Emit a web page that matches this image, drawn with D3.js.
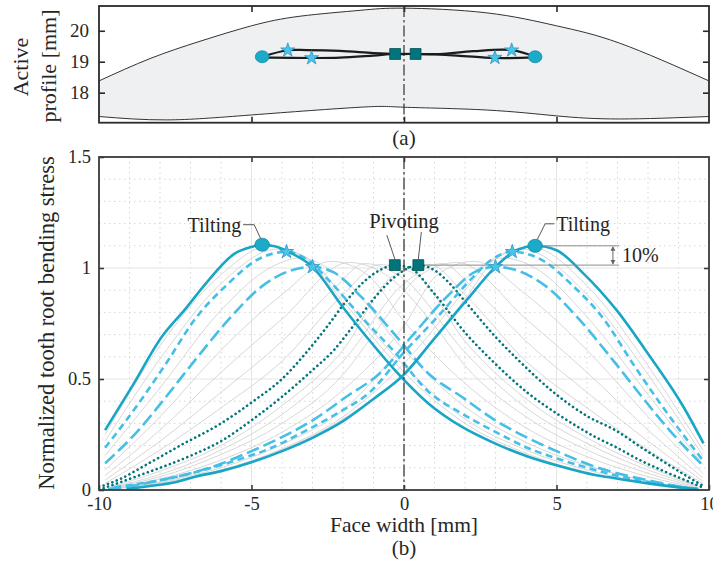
<!DOCTYPE html>
<html>
<head>
<meta charset="utf-8">
<script src="https://cdn.jsdelivr.net/npm/d3@7"></script>
<style>
  body { margin: 0; background: #fff; }
  svg text { font-family: "Liberation Serif", "Times New Roman", serif; fill: #262626; }
</style>
</head>
<body>
<svg id="chart" width="713" height="569"></svg>
<script>
// ---------- data ----------
const xTicks = [-10, -5, 0, 5, 10];
const yTicks = [0, 0.5, 1, 1.5];
const profileTicks = [18, 19, 20];

// tooth flank outline (top panel)
const profileTop = [[-10, 18.38], [-8.33, 19.1], [-6.69, 19.66], [-5, 20.16], [-3.41, 20.47], [-1.44, 20.66],
  [0, 20.73], [2.7, 20.58], [5, 20.16], [7.07, 19.6], [10, 18.38]];
const profileRoot = [[-10, 17.23], [-7.78, 17.12], [-5, 17.28], [-1.44, 17.53], [0, 17.53], [2.7, 17.44],
  [5, 17.25], [7.07, 17.15], [10, 17.23]];

// contact path of the peak stress
const contactUpper = [[-4.65, 19.16], [-3.81, 19.37], [-3.19, 19.375], [-2.1, 19.35], [-1.0, 19.28], [-0.29, 19.25],
  [0.38, 19.25], [1.18, 19.25], [2.27, 19.34], [3.53, 19.375], [4.3, 19.16]];
const contactLower = [[-4.65, 19.14], [-3.03, 19.12], [-2.1, 19.13], [-1.0, 19.2], [-0.29, 19.25], [0.38, 19.25],
  [1.73, 19.2], [2.98, 19.12], [4.3, 19.14]];
const topCircles = [[-4.65, 19.16], [4.3, 19.16]];
const topStars = [[-3.81, 19.37], [-3.03, 19.12], [2.98, 19.13], [3.53, 19.37]];
const topSquares = [[-0.29, 19.25], [0.38, 19.25]];

// normalized stress along face width (bottom panel)
const tiltLeft = [[-9.8, 0.27], [-8.9, 0.47], [-7.94, 0.69], [-7.2, 0.81], [-6.5, 0.93], [-5.54, 1.066], [-5.0, 1.095],
  [-4.65, 1.105], [-4.2, 1.097], [-3.79, 1.073], [-3.0, 1.005], [-2.04, 0.83], [-1.17, 0.68], [-0.3, 0.54], [0.8, 0.39],
  [1.89, 0.285], [2.98, 0.21], [4.08, 0.15], [5.17, 0.105], [6.26, 0.068], [6.92, 0.053], [8.0, 0.03], [9.0, 0.012], [9.6, 0.003]];
const tiltRight = [[-9.1, 0.004], [-8.5, 0.015], [-7.5, 0.035], [-6.85, 0.06], [-6.0, 0.085], [-5.0, 0.125], [-4.0, 0.175],
  [-3.0, 0.235], [-2.0, 0.31], [-1.0, 0.41], [0.0, 0.52], [0.96, 0.676], [2.06, 0.856], [3.0, 1.005], [3.59, 1.073],
  [4.0, 1.095], [4.3, 1.1], [5.0, 1.08], [5.88, 0.976], [6.97, 0.81], [8.07, 0.6], [9.16, 0.375], [9.82, 0.21]];
const dashLeftA = [[-9.8, 0.19], [-8.7, 0.39], [-7.8, 0.57], [-6.85, 0.77], [-5.76, 0.93], [-4.9, 1.03], [-4.3, 1.065],
  [-3.85, 1.073], [-3.2, 1.04], [-2.5, 0.95], [-1.4, 0.78], [-0.3, 0.62], [0.8, 0.443], [1.89, 0.345], [2.98, 0.263],
  [4.08, 0.188], [5.17, 0.135], [6.26, 0.09], [7.3, 0.055], [8.3, 0.03], [9.2, 0.012], [9.7, 0.004]];
const dashRightA = [[-9.5, 0.012], [-8.6, 0.03], [-7.6, 0.055], [-6.56, 0.09], [-5.47, 0.135], [-4.38, 0.188], [-3.28, 0.263],
  [-2.19, 0.345], [-1.1, 0.443], [0, 0.62], [1.1, 0.78], [2.2, 0.95], [2.9, 1.04], [3.55, 1.073], [4.0, 1.065],
  [4.6, 1.03], [5.46, 0.93], [6.55, 0.77], [7.5, 0.57], [8.4, 0.39], [9.82, 0.13]];
const dashLeftB = [[-9.8, 0.12], [-8.7, 0.27], [-7.8, 0.42], [-6.85, 0.585], [-5.76, 0.766], [-4.67, 0.916], [-3.79, 0.985],
  [-3.0, 1.005], [-2.3, 0.98], [-1.4, 0.87], [-0.3, 0.7], [0.8, 0.525], [1.89, 0.42], [2.98, 0.315], [4.08, 0.233],
  [5.17, 0.165], [6.26, 0.105], [7.3, 0.065], [8.3, 0.035], [9.2, 0.012], [9.7, 0.004]];
const dashRightB = [[-9.7, 0.004], [-9.2, 0.012], [-8.3, 0.035], [-7.3, 0.065], [-6.26, 0.105], [-5.17, 0.165], [-4.08, 0.233],
  [-2.98, 0.315], [-1.89, 0.42], [-0.8, 0.525], [0.3, 0.7], [1.4, 0.87], [2.3, 0.98], [3.0, 1.005], [3.79, 0.985],
  [4.67, 0.916], [5.76, 0.766], [6.85, 0.585], [7.8, 0.42], [8.7, 0.27], [9.8, 0.11]];
const pivotLeft = [[-9.85, 0.02], [-9.3, 0.05], [-8.5, 0.11], [-7.34, 0.2], [-6.0, 0.3], [-4.94, 0.4], [-4.0, 0.5],
  [-3.2, 0.62], [-2.5, 0.74], [-1.9, 0.85], [-1.3, 0.94], [-0.8, 0.99], [-0.3, 1.013], [0.2, 1.0], [0.96, 0.89],
  [2.06, 0.7], [2.87, 0.585], [4.08, 0.435], [5.17, 0.33], [6.26, 0.24], [6.92, 0.195], [7.8, 0.13], [8.6, 0.08],
  [9.3, 0.04], [9.85, 0.008]];
const pivotRight = [[-9.85, 0.008], [-9.3, 0.035], [-8.6, 0.07], [-7.8, 0.11], [-6.9, 0.16], [-6.0, 0.22], [-4.94, 0.32],
  [-4.0, 0.42], [-3.0, 0.54], [-2.3, 0.63], [-1.77, 0.72], [-1.0, 0.86], [-0.3, 0.96], [0.47, 1.013], [1.0, 0.99],
  [1.5, 0.93], [2.06, 0.84], [3.0, 0.69], [3.75, 0.585], [4.95, 0.435], [6.04, 0.33], [6.92, 0.27], [7.8, 0.19],
  [8.6, 0.12], [9.3, 0.06], [9.85, 0.015]];

// intermediate load positions (thin grey)
const greyLeft = [
  [[-9.8, 0.25], [-8, 0.65], [-6, 0.97], [-4.45, 1.098], [-3.3, 1.05], [-2, 0.85], [0, 0.53], [2, 0.3], [4, 0.165], [6, 0.08], [8, 0.03], [9.6, 0.004]],
  [[-9.8, 0.22], [-8, 0.59], [-6, 0.93], [-4.15, 1.085], [-3, 1.03], [-2, 0.87], [0, 0.56], [2, 0.32], [4, 0.18], [6, 0.09], [8, 0.033], [9.6, 0.005]],
  [[-9.8, 0.155], [-8, 0.46], [-6, 0.81], [-4.4, 1.0], [-3.4, 1.045], [-2, 0.95], [0, 0.63], [2, 0.375], [4, 0.215], [6, 0.11], [8, 0.04], [9.6, 0.006]],
  [[-9.8, 0.09], [-8, 0.33], [-6, 0.63], [-4, 0.88], [-2.4, 1.03], [-1.2, 0.97], [0, 0.76], [2, 0.48], [4, 0.28], [6, 0.15], [8, 0.06], [9.6, 0.01]],
  [[-9.8, 0.065], [-8, 0.27], [-6, 0.53], [-4, 0.77], [-1.8, 1.025], [-0.6, 0.97], [1, 0.74], [2, 0.56], [4, 0.33], [6, 0.18], [8, 0.075], [9.6, 0.014]],
  [[-9.8, 0.045], [-8, 0.22], [-6, 0.44], [-4, 0.67], [-2.2, 0.92], [-1.3, 1.02], [0, 0.95], [2, 0.62], [4, 0.37], [6, 0.21], [8, 0.09], [9.6, 0.018]],
  [[-9.8, 0.03], [-8, 0.18], [-6, 0.37], [-4, 0.58], [-2, 0.88], [-0.8, 1.015], [0.4, 0.97], [2, 0.67], [4, 0.41], [6, 0.235], [8, 0.105], [9.6, 0.02]]
];
const greyRight = [
  [[-9.6, 0.004], [-8, 0.03], [-6, 0.085], [-4, 0.18], [-2, 0.32], [0, 0.53], [2, 0.86], [3.0, 1.04], [4.15, 1.095], [6, 0.92], [8, 0.56], [9.8, 0.18]],
  [[-9.6, 0.005], [-8, 0.033], [-6, 0.09], [-4, 0.185], [-2, 0.33], [0, 0.57], [2, 0.9], [2.8, 1.03], [3.85, 1.085], [6, 0.88], [8, 0.52], [9.8, 0.155]],
  [[-9.6, 0.006], [-8, 0.037], [-6, 0.1], [-4, 0.205], [-2, 0.36], [0, 0.65], [2, 0.95], [3.25, 1.045], [4.3, 1.0], [6, 0.78], [8, 0.43], [9.8, 0.115]],
  [[-9.6, 0.008], [-8, 0.05], [-6, 0.135], [-4, 0.26], [-2, 0.45], [0, 0.74], [1.1, 0.97], [2.3, 1.03], [4, 0.88], [6, 0.63], [8, 0.33], [9.8, 0.075]],
  [[-9.6, 0.01], [-8, 0.06], [-6, 0.16], [-4, 0.3], [-2, 0.52], [-1, 0.7], [0.55, 0.97], [1.75, 1.025], [4, 0.77], [6, 0.53], [8, 0.27], [9.8, 0.055]],
  [[-9.6, 0.012], [-8, 0.07], [-6, 0.18], [-4, 0.34], [-2, 0.58], [0, 0.93], [1.25, 1.02], [2.2, 0.92], [4, 0.67], [6, 0.44], [8, 0.22], [9.8, 0.04]],
  [[-9.6, 0.015], [-8, 0.085], [-6, 0.2], [-4, 0.38], [-2, 0.63], [-0.4, 0.96], [0.85, 1.015], [2, 0.88], [4, 0.58], [6, 0.37], [8, 0.18], [9.8, 0.03]]
];

const peakCircles = [[-4.65, 1.105], [4.3, 1.1]];
const peakStars = [[-3.85, 1.073], [-3.0, 1.005], [3.0, 1.005], [3.55, 1.073]];
const peakSquares = [[-0.3, 1.013], [0.47, 1.013]];

// ---------- colours ----------
const cTilt = "#19a6c5", cDash = "#45bfe5", cPivot = "#00767c";
const cGrey = "#d3d3d3", cAxis = "#3a3a3a";

const svg = d3.select("#chart");

// ---------- top panel ----------
const xT = d3.scaleLinear().domain([-10, 10]).range([99, 709]);
const yT = d3.scaleLinear().domain([17.03, 20.8]).range([122.7, 6]);

const lineT = d3.line().x(d => xT(d[0])).y(d => yT(d[1])).curve(d3.curveCatmullRom);
const outlineT = d3.line().x(d => xT(d[0])).y(d => yT(d[1])).curve(d3.curveNatural);
const topG = svg.append("g").attr("id", "profile");

topG.append("path")
  .attr("d", outlineT(profileTop) + outlineT(profileRoot.slice().reverse()).replace("M", "L") + "Z")
  .attr("fill", "#eff0f2").attr("stroke", "none");
topG.append("path").attr("d", outlineT(profileTop)).attr("fill", "none").attr("stroke", "#333").attr("stroke-width", 1);
topG.append("path").attr("d", outlineT(profileRoot)).attr("fill", "none").attr("stroke", "#333").attr("stroke-width", 1);

topG.append("line")
  .attr("x1", xT(0)).attr("x2", xT(0)).attr("y1", yT.range()[1]).attr("y2", yT.range()[0])
  .attr("stroke", "#333").attr("stroke-width", 1.2).attr("stroke-dasharray", "11 3 2.5 3");

for (const p of [contactUpper, contactLower]) {
  topG.append("path").attr("d", lineT(p)).attr("fill", "none")
    .attr("stroke", "#1c1c1c").attr("stroke-width", 2.2);
}

function drawMarkers(g, xs, ys, circles, stars, squares, r) {
  g.selectAll(null).data(circles).join("ellipse")
    .attr("cx", d => xs(d[0])).attr("cy", d => ys(d[1]))
    .attr("rx", r + 0.8).attr("ry", r)
    .attr("fill", "#1babc8").attr("stroke", "#138aa3").attr("stroke-width", 0.8);
  g.selectAll(null).data(stars).join("path")
    .attr("transform", d => `translate(${xs(d[0])},${ys(d[1])})`)
    .attr("d", d3.symbol(d3.symbolStar, 62))
    .attr("fill", "#4cc3ea").attr("stroke", "#2a98c0").attr("stroke-width", 0.8);
  g.selectAll(null).data(squares).join("path")
    .attr("transform", d => `translate(${xs(d[0])},${ys(d[1])})`)
    .attr("d", d3.symbol(d3.symbolSquare, 118))
    .attr("fill", cPivot).attr("stroke", "#004c50").attr("stroke-width", 0.8);
}
drawMarkers(topG, xT, yT, topCircles, topStars, topSquares, 6);

topG.append("rect")
  .attr("x", 99).attr("y", 6).attr("width", 610).attr("height", 116.7)
  .attr("fill", "none").attr("stroke", "#2a2a2a").attr("stroke-width", 1.8);

topG.append("g").attr("transform", "translate(0,122.7)")
  .call(d3.axisBottom(xT).tickValues([-5, 0, 5]).tickSize(-6).tickFormat(""))
  .call(g => g.select(".domain").remove());
topG.append("g").attr("transform", "translate(0,6)")
  .call(d3.axisTop(xT).tickValues([-5, 0, 5]).tickSize(-6).tickFormat(""))
  .call(g => g.select(".domain").remove());
topG.append("g").attr("transform", "translate(99,0)")
  .call(d3.axisLeft(yT).tickValues(profileTicks).tickSize(-6).tickPadding(10).tickFormat(d => String(d)))
  .call(g => g.select(".domain").remove())
  .call(g => g.selectAll("text").attr("font-size", 19).attr("font-family", null));
topG.append("g").attr("transform", "translate(709,0)")
  .call(d3.axisRight(yT).tickValues(profileTicks).tickSize(-6).tickFormat(""))
  .call(g => g.select(".domain").remove());
topG.selectAll(".tick line").attr("stroke", "#2a2a2a").attr("stroke-width", 1.6);

topG.append("text").attr("transform", "translate(20,67) rotate(-90)")
  .attr("text-anchor", "middle").attr("dy", "0.35em").attr("font-size", 22).text("Active");
topG.append("text").attr("transform", "translate(48,66) rotate(-90)")
  .attr("text-anchor", "middle").attr("dy", "0.35em").attr("font-size", 22).text("profile [mm]");
topG.append("text").attr("x", 404).attr("y", 145).attr("text-anchor", "middle")
  .attr("font-size", 21).text("(a)");

// ---------- bottom panel ----------
const xB = d3.scaleLinear().domain([-10, 10]).range([99, 709]);
const yB = d3.scaleLinear().domain([0, 1.5]).range([490, 157]);
const botG = svg.append("g").attr("id", "stress");

botG.append("clipPath").attr("id", "clipB").append("rect")
  .attr("x", 99).attr("y", 157).attr("width", 610).attr("height", 333);

// grid
const minorX = d3.range(-9, 10).filter(v => v % 5 !== 0);
const minorY = d3.range(1, 15).map(v => v / 10).filter(v => Math.abs(v - 0.5) > 1e-6 && Math.abs(v - 1) > 1e-6);
const grid = botG.append("g");
grid.selectAll(null).data(minorX).join("line")
  .attr("x1", d => xB(d)).attr("x2", d => xB(d)).attr("y1", 157).attr("y2", 490)
  .attr("stroke", "#d6d6d6").attr("stroke-width", 1).attr("stroke-dasharray", "1.5 3.5");
grid.selectAll(null).data(minorY).join("line")
  .attr("y1", d => yB(d)).attr("y2", d => yB(d)).attr("x1", 99).attr("x2", 709)
  .attr("stroke", "#d6d6d6").attr("stroke-width", 1).attr("stroke-dasharray", "1.5 3.5");
grid.selectAll(null).data([-5, 0, 5]).join("line")
  .attr("x1", d => xB(d)).attr("x2", d => xB(d)).attr("y1", 157).attr("y2", 490)
  .attr("stroke", "#e4e4e4").attr("stroke-width", 1);
grid.selectAll(null).data([0.5, 1]).join("line")
  .attr("y1", d => yB(d)).attr("y2", d => yB(d)).attr("x1", 99).attr("x2", 709)
  .attr("stroke", "#e4e4e4").attr("stroke-width", 1);

const lineB = d3.line().x(d => xB(d[0])).y(d => yB(d[1])).curve(d3.curveMonotoneX);
const curves = botG.append("g").attr("clip-path", "url(#clipB)");

curves.selectAll(null).data(greyLeft.concat(greyRight)).join("path")
  .attr("d", lineB).attr("fill", "none").attr("stroke", cGrey).attr("stroke-width", 0.9);

const styled = [
  { d: pivotLeft, c: cPivot, dash: "0.1 4.6" },
  { d: pivotRight, c: cPivot, dash: "0.1 4.6" },
  { d: dashLeftB, c: cDash, dash: "13 5" },
  { d: dashRightB, c: cDash, dash: "13 5" },
  { d: dashLeftA, c: cDash, dash: "7 4.5" },
  { d: dashRightA, c: cDash, dash: "7 4.5" },
  { d: tiltLeft, c: cTilt, dash: null },
  { d: tiltRight, c: cTilt, dash: null }
];
curves.selectAll(null).data(styled).join("path")
  .attr("d", s => lineB(s.d)).attr("fill", "none")
  .attr("stroke", s => s.c).attr("stroke-width", 2.6)
  .attr("stroke-linecap", s => s.dash && s.dash.startsWith("0.1") ? "round" : "butt")
  .attr("stroke-dasharray", s => s.dash);

// 10% annotation
const ann = botG.append("g").attr("stroke", "#8c8c8c").attr("stroke-width", 1).attr("fill", "none");
const yHi = yB(peakCircles[1][1]), yLo = yB(peakSquares[1][1]);
ann.append("line").attr("x1", xB(peakCircles[1][0])).attr("x2", xB(7.05)).attr("y1", yHi).attr("y2", yHi);
ann.append("line").attr("x1", xB(peakSquares[1][0])).attr("x2", xB(7.05)).attr("y1", yLo).attr("y2", yLo);
const xa = xB(6.85);
ann.append("line").attr("x1", xa).attr("x2", xa).attr("y1", yHi + 1).attr("y2", yLo - 1).attr("stroke", "#666");
ann.append("path").attr("d", `M${xa - 2.5},${yHi + 5}L${xa},${yHi + 0.5}L${xa + 2.5},${yHi + 5}Z`).attr("fill", "#666").attr("stroke", "none");
ann.append("path").attr("d", `M${xa - 2.5},${yLo - 5}L${xa},${yLo - 0.5}L${xa + 2.5},${yLo - 5}Z`).attr("fill", "#666").attr("stroke", "none");
botG.append("text").attr("x", xa + 9).attr("y", (yHi + yLo) / 2).attr("dy", "0.35em")
  .attr("font-size", 20).text("10%");

// centre line
botG.append("line")
  .attr("x1", xB(0)).attr("x2", xB(0)).attr("y1", 157).attr("y2", 490)
  .attr("stroke", "#3c3c3c").attr("stroke-width", 1.3).attr("stroke-dasharray", "12 3 2.5 3");

// leader lines
const lead = botG.append("g").attr("stroke", "#444").attr("stroke-width", 0.9).attr("fill", "none");
const cl = peakCircles[0], cr = peakCircles[1];
lead.append("path").attr("d", `M${xB(cl[0]) - 19},${yB(cl[1]) - 20}H${xB(cl[0]) - 8}L${xB(cl[0]) - 1},${yB(cl[1]) - 5}`);
lead.append("path").attr("d", `M${xB(cr[0]) + 19},${yB(cr[1]) - 22}H${xB(cr[0]) + 10}L${xB(cr[0]) + 2},${yB(cr[1]) - 6}`);
lead.append("path").attr("d", `M${xB(peakSquares[0][0]) - 8},${yB(peakSquares[0][1]) - 30}L${xB(peakSquares[0][0])},${yB(peakSquares[0][1]) - 6}`);
lead.append("path").attr("d", `M${xB(peakSquares[1][0]) + 3},${yB(peakSquares[1][1]) - 33}L${xB(peakSquares[1][0])},${yB(peakSquares[1][1]) - 6}`);

drawMarkers(botG, xB, yB, peakCircles, peakStars, peakSquares, 6.5);

botG.append("text").attr("x", xB(cl[0]) - 21).attr("y", yB(cl[1]) - 20).attr("dy", "0.35em")
  .attr("text-anchor", "end").attr("font-size", 20).text("Tilting");
botG.append("text").attr("x", xB(cr[0]) + 21).attr("y", yB(cr[1]) - 22).attr("dy", "0.35em")
  .attr("font-size", 20).text("Tilting");
botG.append("text").attr("x", 404).attr("y", 221).attr("dy", "0.35em")
  .attr("text-anchor", "middle").attr("font-size", 20.5).text("Pivoting");

// frame and axes
botG.append("rect")
  .attr("x", 99).attr("y", 157).attr("width", 610).attr("height", 333)
  .attr("fill", "none").attr("stroke", cAxis).attr("stroke-width", 1.8);

botG.append("g").attr("transform", "translate(0,490)")
  .call(d3.axisBottom(xB).tickValues(xTicks).tickSize(-5).tickPadding(7).tickFormat(d => String(d)))
  .call(g => g.select(".domain").remove())
  .call(g => g.selectAll("text").attr("font-size", 18.5).attr("font-family", null));
botG.append("g").attr("transform", "translate(0,157)")
  .call(d3.axisTop(xB).tickValues([-5, 0, 5]).tickSize(-5).tickFormat(""))
  .call(g => g.select(".domain").remove());
botG.append("g").attr("transform", "translate(99,0)")
  .call(d3.axisLeft(yB).tickValues(yTicks).tickSize(-5).tickPadding(8).tickFormat(d => String(d)))
  .call(g => g.select(".domain").remove())
  .call(g => g.selectAll("text").attr("font-size", 18.5).attr("font-family", null));
botG.append("g").attr("transform", "translate(709,0)")
  .call(d3.axisRight(yB).tickValues([0.5, 1]).tickSize(-5).tickFormat(""))
  .call(g => g.select(".domain").remove());
botG.selectAll(".tick line").attr("stroke", cAxis).attr("stroke-width", 1.6);

botG.append("text").attr("x", 404).attr("y", 532).attr("text-anchor", "middle")
  .attr("font-size", 21.5).text("Face width [mm]");
botG.append("text").attr("x", 404).attr("y", 555).attr("text-anchor", "middle")
  .attr("font-size", 21).text("(b)");
botG.append("text").attr("transform", "translate(46,323) rotate(-90)")
  .attr("text-anchor", "middle").attr("dy", "0.35em").attr("font-size", 22.5)
  .text("Normalized tooth root bending stress");
</script>
</body>
</html>
